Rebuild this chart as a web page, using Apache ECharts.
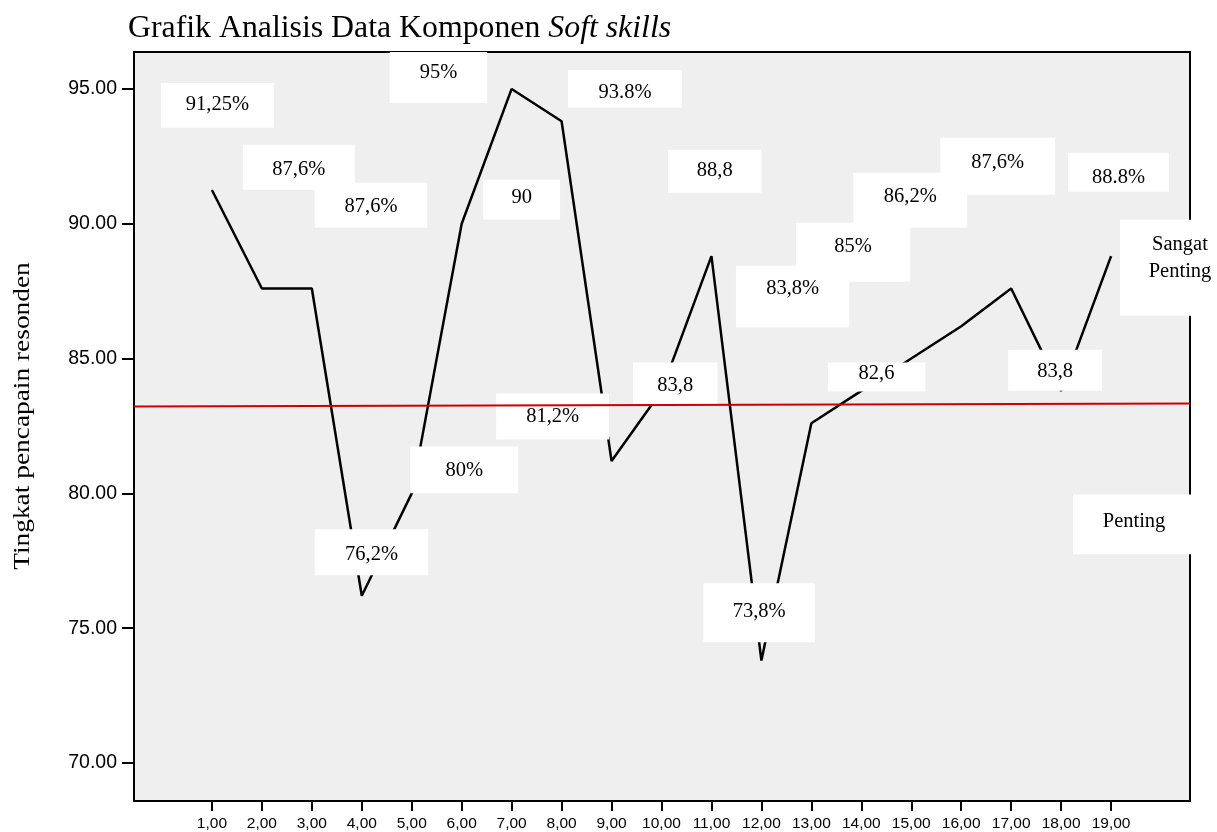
<!DOCTYPE html>
<html>
<head>
<meta charset="utf-8">
<script src="https://cdn.jsdelivr.net/npm/echarts@6/dist/echarts.min.js"></script>
<style>html,body{margin:0;padding:0;background:#fff;}#chart{width:1217px;height:832px;}</style>
</head>
<body>
<div id="chart"></div>
<script>
// ---- data ----
const categories = [1,2,3,4,5,6,7,8,9,10,11,12,13,14,15,16,17,18,19];
const values = [91.25,87.6,87.6,76.2,80,90,95,93.8,81.2,83.8,88.8,73.8,82.6,83.8,85,86.2,87.6,83.8,88.8];
const xTickValues = [1,2,3,4,5,6,7,8,9,10,11,12,13,14,15,16,17,18,19];
const yTickValues = [70,75,80,85,90,95];
const referenceLine = [[-0.56,83.22],[20.58,83.33]];
// annotation boxes (in axis units)
const annoText   = ['91,25%','87,6%','87,6%','95%','93.8%','90','88,8','80%','76,2%','81,2%','83,8','73,8%','85%','83,8%','86,2%','87,6%','88.8%','82,6','83,8','Sangat\nPenting','Penting'];
const annoX1     = [-0.02,1.62,3.06,4.56,8.13,6.43,10.13,4.97,3.06,6.69,9.43,10.84,12.69,11.49,13.84,15.58,18.14,13.33,16.94,19.18,18.24];
const annoX2     = [2.24,3.86,5.31,6.51,10.41,7.97,12.00,7.13,5.33,8.95,11.12,13.07,14.98,13.76,16.12,17.88,20.16,15.28,18.82,21.58,20.68];
const annoTop    = [95.22,92.93,91.52,96.37,95.70,91.63,92.74,81.74,78.67,83.70,84.85,76.67,90.04,88.44,91.89,93.19,92.63,84.85,85.33,90.15,79.96];
const annoBottom = [93.56,91.26,89.85,94.48,94.30,90.15,91.15,80.0,76.96,82.0,83.30,74.48,87.85,86.15,89.85,91.08,91.19,83.78,83.81,86.59,77.74];
const annoTextY  = [94.41,92.0,90.63,95.59,94.85,90.96,91.96,80.85,77.74,82.85,84.0,75.63,89.15,87.59,91.00,92.26,91.70,84.44,84.52,88.74,78.96];

const SERIF = '"Liberation Serif", "Times New Roman", serif';
const SANS = '"Liberation Sans", Arial, sans-serif';

const chart = echarts.init(document.getElementById('chart'), null, {renderer:'canvas'});
const lineData = categories.map((c,i)=>[c, values[i]]);
const annoData = annoText.map((t,i)=>[annoX1[i], annoX2[i], annoTop[i], annoBottom[i], annoTextY[i], i]);

chart.setOption({
  animation:false,
  backgroundColor:'#ffffff',
  title:{
    text:'{a|Grafik Analisis Data Komponen }{b|Soft skills}',
    left:123, top:8,
    textStyle:{fontWeight:'normal', rich:{
      a:{fontFamily:SERIF, fontSize:31.8, fontWeight:'normal', color:'#000'},
      b:{fontFamily:SERIF, fontSize:31.8, fontWeight:'normal', color:'#000', fontStyle:'italic'}
    }}
  },
  graphic:[{
    type:'text', x:23, y:416, rotation:Math.PI/2, scaleX:1.19,
    style:{text:'Tingkat pencapain resonden', fontFamily:SERIF, fontSize:23, fill:'#000', align:'center', verticalAlign:'middle'}
  }],
  grid:{left:134, right:27, top:52, bottom:30, show:true, backgroundColor:'#efefef', borderColor:'#000', borderWidth:2},
  xAxis:{
    type:'value', min:-0.56, max:20.58,
    axisLine:{show:false, onZero:false},
    splitLine:{show:false},
    axisTick:{show:true, customValues:xTickValues, length:10, lineStyle:{color:'#000', width:2}},
    axisLabel:{customValues:xTickValues, margin:15, fontFamily:SANS, fontSize:15.5, color:'#000',
      formatter:v=>v.toFixed(2).replace('.',',')}
  },
  yAxis:{
    type:'value', min:68.59, max:96.37,
    axisLine:{show:false, onZero:false},
    splitLine:{show:false},
    axisTick:{show:true, customValues:yTickValues, length:12, lineStyle:{color:'#000', width:2}},
    axisLabel:{customValues:yTickValues, margin:17, fontFamily:SANS, fontSize:19.5, color:'#000',
      formatter:v=>v.toFixed(2)}
  },
  series:[
    {type:'line', data:lineData, showSymbol:false, symbol:'none', z:2,
     lineStyle:{color:'#000', width:2.5}},
    {type:'custom', z:3, clip:false, data:annoData,
     renderItem:(params, api)=>{
       const p1 = api.coord([api.value(0), api.value(2)]);
       const p2 = api.coord([api.value(1), api.value(3)]);
       const tp = api.coord([(api.value(0)+api.value(1))/2, api.value(4)]);
       const idx = api.value(5);
       return {type:'group', children:[
         {type:'rect', shape:{x:p1[0], y:p1[1], width:p2[0]-p1[0], height:p2[1]-p1[1]}, style:{fill:'#fff'}},
         {type:'text', style:{x:tp[0], y:tp[1], text:annoText[idx], fontFamily:SERIF, fontSize:20.5, fill:'#000', align:'center', verticalAlign:'middle', lineHeight:27}}
       ]};
     }},
    {type:'line', data:referenceLine, showSymbol:false, symbol:'none', z:4,
     lineStyle:{color:'#cc0000', width:2}}
  ]
});
</script>
</body>
</html>
